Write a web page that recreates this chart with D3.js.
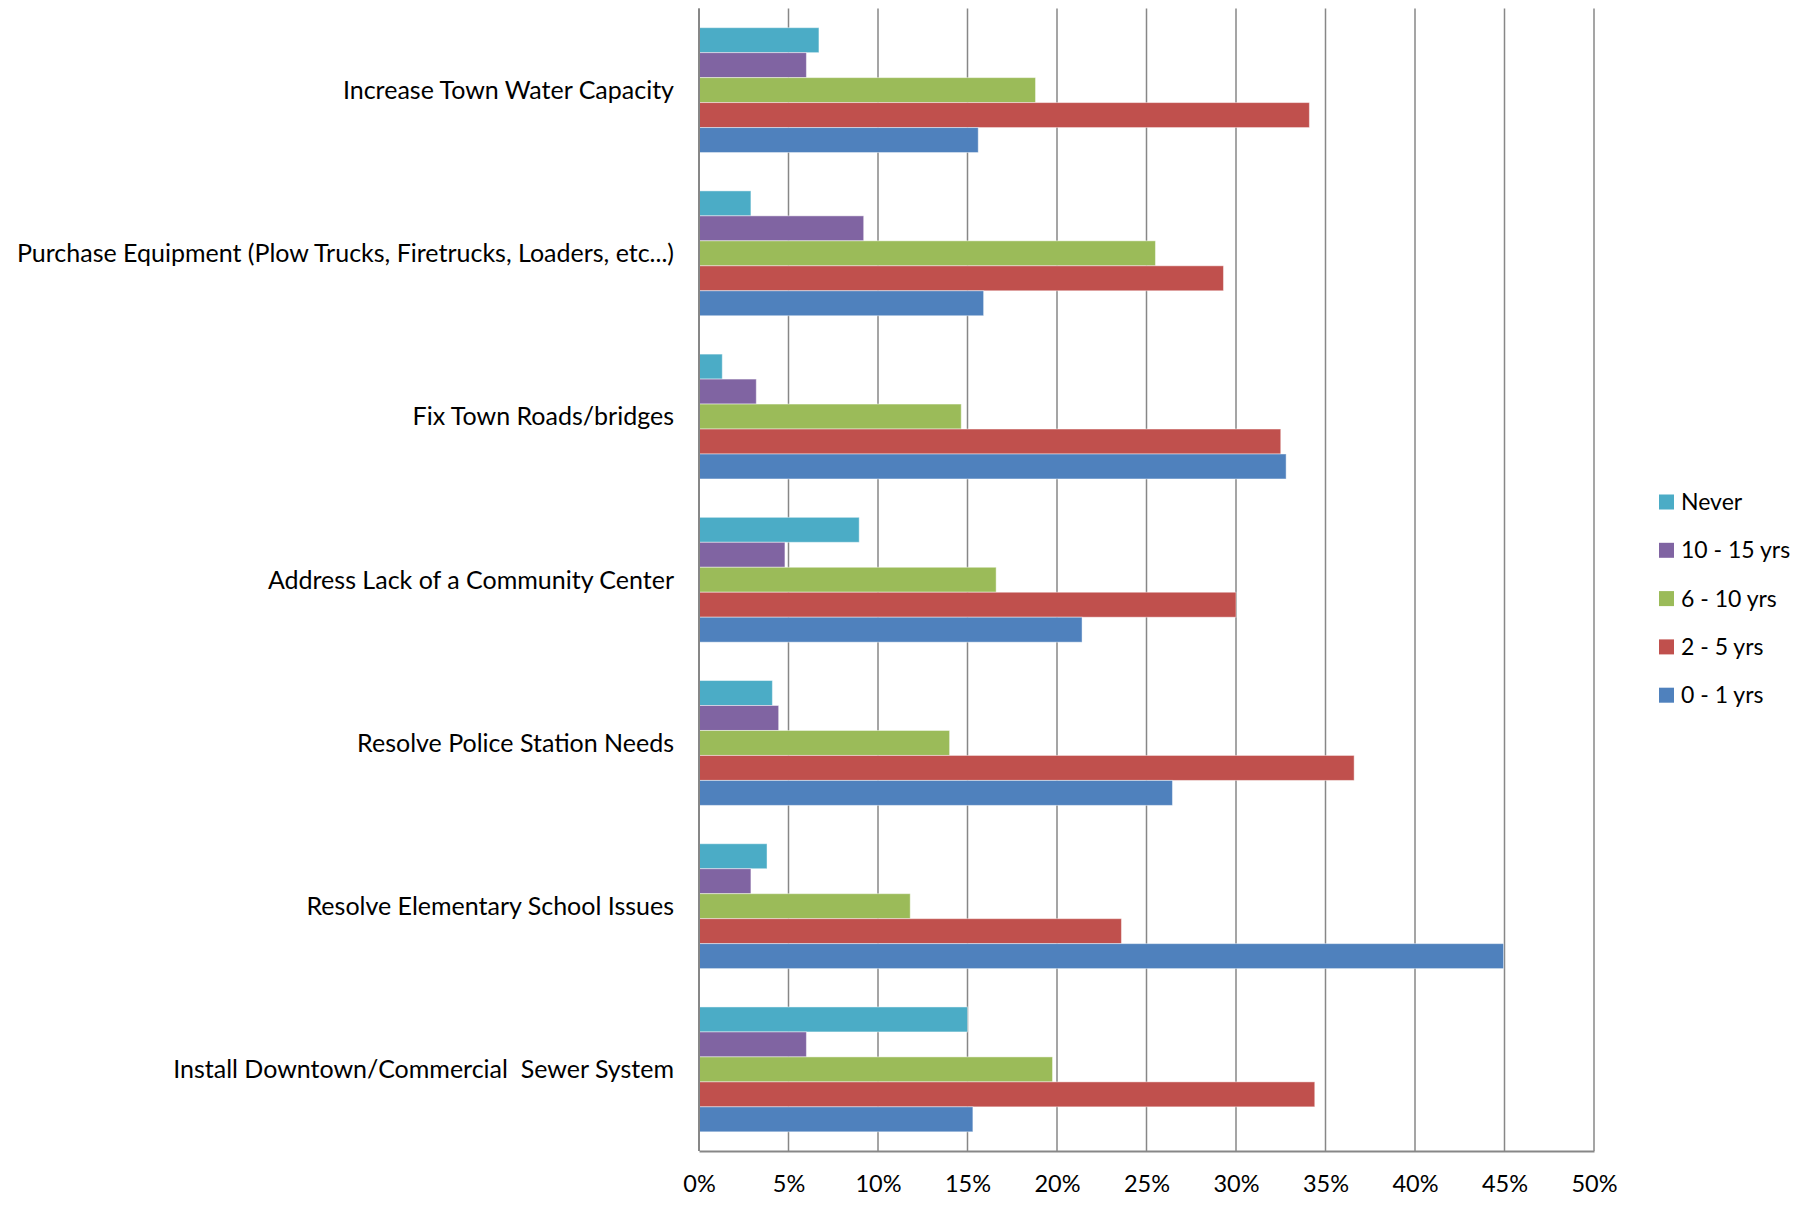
<!DOCTYPE html>
<html>
<head>
<meta charset="utf-8">
<script src="https://cdn.jsdelivr.net/npm/d3@7"></script>
<style>
body { margin: 0; background: #fff; }
text { font-family: Lato, "Open Sans", sans-serif; fill: #000; }
</style>
</head>
<body>
<div id="chart"></div>
<script>

var categories = [
	'Increase Town Water Capacity',
	'Purchase Equipment (Plow Trucks, Firetrucks, Loaders, etc...)',
	'Fix Town Roads/bridges',
	'Address Lack of a Community Center',
	'Resolve Police Station Needs',
	'Resolve Elementary School Issues',
	'Install Downtown/Commercial  Sewer System'
]

var seriesNames = ['Never', '10 - 15 yrs', '6 - 10 yrs', '2 - 5 yrs', '0 - 1 yrs']
var seriesColors = ['#4bacc6', '#8064a2', '#9bbb59', '#c0504d', '#4f81bd']

// percent, one array per series, in category order
var never = [6.7, 2.9, 1.3, 8.95, 4.1, 3.8, 15.0]
var yrs10to15 = [6.0, 9.2, 3.2, 4.8, 4.45, 2.9, 6.0]
var yrs6to10 = [18.8, 25.5, 14.65, 16.6, 14.0, 11.8, 19.75]
var yrs2to5 = [34.1, 29.3, 32.5, 30.0, 36.6, 23.6, 34.4]
var yrs0to1 = [15.6, 15.9, 32.8, 21.4, 26.45, 44.95, 15.3]

var xTicks = [0, 5, 10, 15, 20, 25, 30, 35, 40, 45, 50]

var seriesValues = [never, yrs10to15, yrs6to10, yrs2to5, yrs0to1]

var margin = { top: 8.5, left: 699, right: 224, bottom: 63 }
var fullWidth = 1818
var fullHeight = 1214
var width = fullWidth - margin.left - margin.right
var height = fullHeight - margin.top - margin.bottom

var svg = d3.select('#chart').append('svg')
	.attr('width', fullWidth)
	.attr('height', fullHeight)

var g = svg.append('g')
	.attr('transform', 'translate(' + margin.left + ',' + margin.top + ')')

var xScale = d3.scaleLinear()
	.domain([0, 50])
	.range([0, width])

var yScale = d3.scaleBand()
	.domain(categories)
	.range([0, height])
	.paddingInner(0.235)
	.paddingOuter(0.1175)

var inner = d3.scaleBand()
	.domain(seriesNames)
	.range([0, yScale.bandwidth()])

// grid lines
g.append('g').selectAll('line').data(xTicks)
	.enter().append('line')
	.attr('x1', function(d) { return xScale(d) })
	.attr('x2', function(d) { return xScale(d) })
	.attr('y1', 0)
	.attr('y2', height)
	.attr('stroke', '#878787')
	.attr('stroke-width', 1.5)

// bars
seriesNames.forEach(function(name, s) {
	g.append('g').selectAll('rect').data(seriesValues[s])
		.enter().append('rect')
		.attr('x', xScale(0))
		.attr('y', function(d, i) { return yScale(categories[i]) + inner(name) })
		.attr('width', function(d) { return xScale(d) - xScale(0) })
		.attr('height', inner.bandwidth())
		.attr('fill', seriesColors[s])
		.attr('stroke', 'rgba(255,255,255,0.45)')
		.attr('stroke-width', 1)
})

// left axis line + bottom axis line
g.append('line')
	.attr('x1', 0).attr('x2', 0)
	.attr('y1', 0).attr('y2', height)
	.attr('stroke', '#878787')
	.attr('stroke-width', 2)

var xAxis = d3.axisBottom(xScale)
	.tickValues(xTicks)
	.tickFormat(function(d) { return d + '%' })
	.tickSize(0)
	.tickPadding(24)

var xg = g.append('g')
	.attr('transform', 'translate(0,' + height + ')')
	.call(xAxis)
xg.select('.domain').attr('stroke', '#878787').attr('stroke-width', 2)
xg.selectAll('text')
	.style('font-family', 'Lato, "Open Sans", sans-serif')
	.style('font-size', '23.5px')
	.attr('fill', '#000')

// category labels
g.append('g').selectAll('text').data(categories)
	.enter().append('text')
	.attr('x', -25)
	.attr('y', function(d) { return yScale(d) + yScale.bandwidth() / 2 })
	.attr('dy', '0.35em')
	.attr('text-anchor', 'end')
	.style('font-size', '25px')
	.style('white-space', 'pre')
	.text(function(d) { return d })

// legend
var legend = svg.append('g')
	.attr('transform', 'translate(1659,502)')
legend.selectAll('rect').data(seriesNames)
	.enter().append('rect')
	.attr('x', 0)
	.attr('y', function(d, i) { return i * 48.3 - 7.5 })
	.attr('width', 15)
	.attr('height', 15)
	.attr('fill', function(d, i) { return seriesColors[i] })
legend.selectAll('text').data(seriesNames)
	.enter().append('text')
	.attr('x', 22)
	.attr('y', function(d, i) { return i * 48.3 })
	.attr('dy', '0.35em')
	.style('font-size', '23px')
	.text(function(d) { return d })
</script>
</body>
</html>
